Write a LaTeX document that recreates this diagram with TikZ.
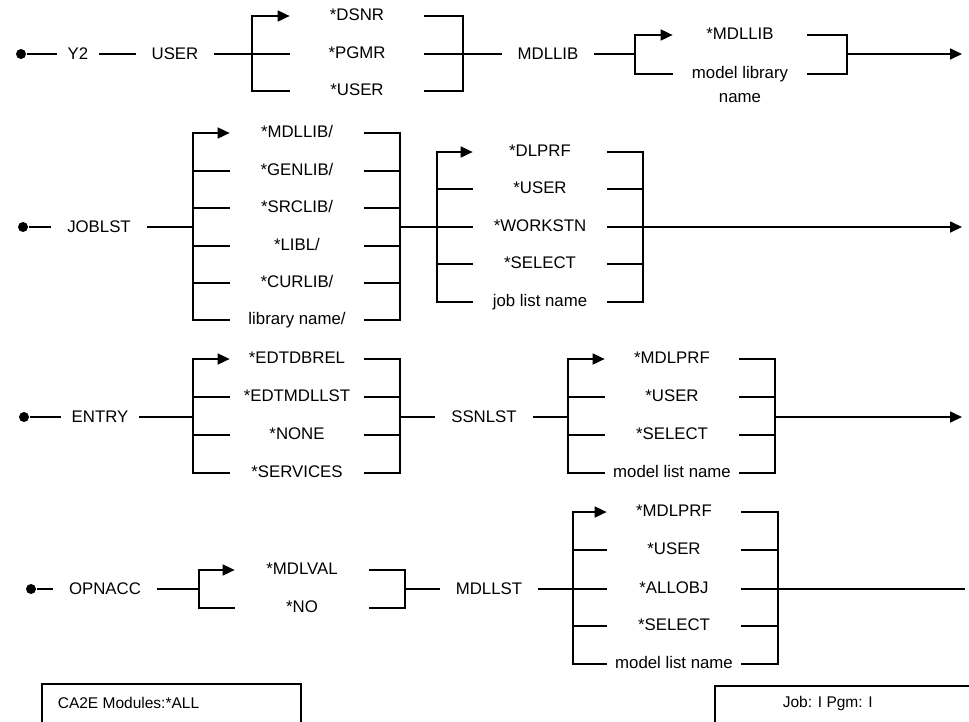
\documentclass[tikz,border=0pt]{standalone}
\usepackage{fontspec}
\setmainfont{Liberation Sans}
\usetikzlibrary{arrows.meta}

\tikzset{
  kw/.style={inner xsep=15pt,inner ysep=0pt,font=\fontsize{16.8}{19}\selectfont},
  opt/.style={minimum width=133pt,inner sep=0pt,text height=12pt,text depth=3.5pt,font=\fontsize{16.8}{19}\selectfont},
  dot/.style={circle,fill,inner sep=0pt,minimum size=10pt},
  info/.style={anchor=west,inner sep=0pt,font=\fontsize{15.5}{18}\selectfont},
  frame/.style={line width=1.8pt}
}

\begin{document}
\begin{tikzpicture}[x=1pt,y=-1pt,line width=1.7pt,>={Triangle[length=12pt,width=11pt]}]
\useasboundingbox (0,0) rectangle (969,721);
% Y2 USER ... MDLLIB
\node[dot] (st1) at (21,54) {};
\node[kw,inner xsep=10pt] (y2) at (78,54) {Y2};
\node[kw] (user) at (175,54) {USER};
\node[opt] (dsnr) at (357,16) {*DSNR};
\node[opt] (pgmr) at (357,54) {*PGMR};
\node[opt] (userb) at (357,91) {*USER};
\node[kw] (mdllib) at (548,54) {MDLLIB};
\node[opt] (mlib1) at (740,35) {*MDLLIB};
\node[opt,label={[opt,minimum width=0pt,yshift=-7pt]below:name}] (mlib2) at (740,74) {model library};
\coordinate (ja) at (252,54); \coordinate (ka) at (463,54);
\coordinate (jb) at (635,54); \coordinate (kb) at (847,54);
\coordinate (end1) at (962,54);
\draw (st1) -- (y2); \draw (y2) -- (user); \draw (user) -- (ja);
\draw[->] (ja) |- (dsnr);
\foreach \o in {pgmr,userb} \draw (ja) |- (\o);
\foreach \o in {dsnr,pgmr,userb} \draw (\o) -| (ka);
\draw (ka) -- (mdllib); \draw (mdllib) -- (jb);
\draw[->] (jb) |- (mlib1);
\draw (jb) |- (mlib2);
\foreach \o in {mlib1,mlib2} \draw (\o) -| (kb);
\draw[->] (kb) -- (end1);

% JOBLST
\node[dot] (st2) at (23,227) {};
\node[kw] (joblst) at (99,227) {JOBLST};
\node[opt] (lib1) at (297,133) {*MDLLIB/};
\node[opt] (lib2) at (297,171) {*GENLIB/};
\node[opt] (lib3) at (297,208) {*SRCLIB/};
\node[opt] (lib4) at (297,246) {*LIBL/};
\node[opt] (lib5) at (297,283) {*CURLIB/};
\node[opt] (lib6) at (297,320) {library name/};
\node[opt] (jl1) at (540,152) {*DLPRF};
\node[opt] (jl2) at (540,189) {*USER};
\node[opt] (jl3) at (540,227) {*WORKSTN};
\node[opt] (jl4) at (540,264) {*SELECT};
\node[opt] (jl5) at (540,302) {job list name};
\coordinate (jc) at (193,227); \coordinate (kc) at (400,227);
\coordinate (jd) at (437,227); \coordinate (kd) at (643,227);
\coordinate (end2) at (962,227);
\draw (st2) -- (joblst); \draw (joblst) -- (jc);
\draw[->] (jc) |- (lib1);
\foreach \o in {lib2,lib3,lib4,lib5,lib6} \draw (jc) |- (\o);
\foreach \o in {lib1,lib2,lib3,lib4,lib5,lib6} \draw (\o) -| (kc);
\draw (kc) -- (jd);
\draw[->] (jd) |- (jl1);
\foreach \o in {jl2,jl3,jl4,jl5} \draw (jd) |- (\o);
\foreach \o in {jl1,jl2,jl3,jl4,jl5} \draw (\o) -| (kd);
\draw[->] (kd) -- (end2);

% ENTRY ... SSNLST
\node[dot] (st3) at (24,417) {};
\node[kw,inner xsep=10pt] (entry) at (100,417) {ENTRY};
\node[opt] (ent1) at (297,359) {*EDTDBREL};
\node[opt] (ent2) at (297,397) {*EDTMDLLST};
\node[opt] (ent3) at (297,435) {*NONE};
\node[opt] (ent4) at (297,473) {*SERVICES};
\node[kw] (ssnlst) at (484,417) {SSNLST};
\node[opt] (ssn1) at (672,359) {*MDLPRF};
\node[opt] (ssn2) at (672,397) {*USER};
\node[opt] (ssn3) at (672,435) {*SELECT};
\node[opt] (ssn4) at (672,473) {model list name};
\coordinate (je) at (193,417); \coordinate (ke) at (400,417);
\coordinate (jf) at (568,417); \coordinate (kf) at (775,417);
\coordinate (end3) at (962,417);
\draw (st3) -- (entry); \draw (entry) -- (je);
\draw[->] (je) |- (ent1);
\foreach \o in {ent2,ent3,ent4} \draw (je) |- (\o);
\foreach \o in {ent1,ent2,ent3,ent4} \draw (\o) -| (ke);
\draw (ke) -- (ssnlst); \draw (ssnlst) -- (jf);
\draw[->] (jf) |- (ssn1);
\foreach \o in {ssn2,ssn3,ssn4} \draw (jf) |- (\o);
\foreach \o in {ssn1,ssn2,ssn3,ssn4} \draw (\o) -| (kf);
\draw[->] (kf) -- (end3);

% OPNACC ... MDLLST
\node[dot] (st4) at (31,589) {};
\node[kw] (opnacc) at (105,589) {OPNACC};
\node[opt] (acc1) at (302,570) {*MDLVAL};
\node[opt] (acc2) at (302,608) {*NO};
\node[kw] (mdllst) at (489,589) {MDLLST};
\node[opt] (ml1) at (674,512) {*MDLPRF};
\node[opt] (ml2) at (674,550) {*USER};
\node[opt] (ml3) at (674,589) {*ALLOBJ};
\node[opt] (ml4) at (674,626) {*SELECT};
\node[opt] (ml5) at (674,664) {model list name};
\coordinate (jg) at (199,589); \coordinate (kg) at (405,589);
\coordinate (jh) at (573,589); \coordinate (kh) at (778,589);
\coordinate (end4) at (965,589);
\draw (st4) -- (opnacc); \draw (opnacc) -- (jg);
\draw[->] (jg) |- (acc1);
\draw (jg) |- (acc2);
\foreach \o in {acc1,acc2} \draw (\o) -| (kg);
\draw (kg) -- (mdllst); \draw (mdllst) -- (jh);
\draw[->] (jh) |- (ml1);
\foreach \o in {ml2,ml3,ml4,ml5} \draw (jh) |- (\o);
\foreach \o in {ml1,ml2,ml3,ml4,ml5} \draw (\o) -| (kh);
\draw (kh) -- (end4);

% status boxes
\draw[frame] (42,684) rectangle (301,745);
\node[info] (mods) at (57,703) {CA2E Modules:*ALL};
\draw[frame] (715,686) rectangle (985,745);
\node[info] (jobpgm) at (782,703) {Job: I Pgm: I};
\end{tikzpicture}
\end{document}
